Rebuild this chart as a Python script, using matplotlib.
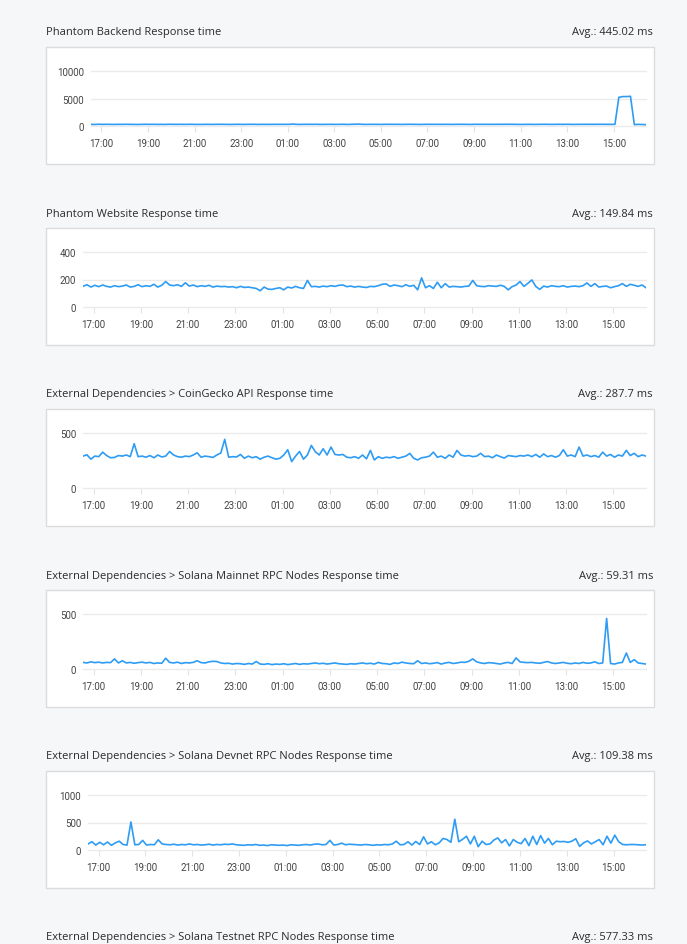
import pandas as pd
import matplotlib
matplotlib.use("Agg")
import matplotlib.pyplot as plt
import matplotlib.dates as mdates
from matplotlib.patches import Rectangle

W, H = 687, 945
inicio = "2022-05-10 16:33"

titulos = [
    "Phantom Backend Response time",
    "Phantom Website Response time",
    "External Dependencies > CoinGecko API Response time",
    "External Dependencies > Solana Mainnet RPC Nodes Response time",
    "External Dependencies > Solana Devnet RPC Nodes Response time",
    "External Dependencies > Solana Testnet RPC Nodes Response time",
]
medias = ["445.02", "149.84", "287.7", "59.31", "109.38", "577.33"]
yticks = [[0, 5000, 10000], [0, 200, 400], [0, 500], [0, 500], [0, 500, 1000]]

# valores a cada 10 minutos
backend = [
    300, 280, 320, 290, 310, 300, 285, 305, 295, 310,
    300, 290, 280, 300, 310, 295, 305, 290, 300, 285,
    310, 300, 295, 305, 290, 300, 310, 285, 300, 295,
    305, 290, 300, 310, 295, 300, 285, 300, 305, 290,
    300, 295, 310, 285, 300, 290, 305, 300, 295, 310,
    290, 300, 350, 300, 290, 305, 295, 300, 310, 290,
    300, 295, 305, 290, 300, 310, 285, 300, 295, 340,
    300, 290, 305, 295, 300, 290, 310, 300, 295, 305,
    290, 300, 310, 295, 300, 285, 305, 300, 290, 310,
    300, 295, 305, 290, 300, 310, 295, 300, 285, 305,
    300, 290, 310, 295, 300, 305, 290, 300, 310, 295,
    300, 285, 300, 305, 290, 300, 295, 310, 300, 290,
    305, 295, 300, 310, 290, 300, 295, 305, 300, 290,
    300, 310, 295, 300, 300, 300, 5200, 5350, 5350, 5400,
    250, 300, 260, 240,
]
website = [
    150, 162, 145, 158, 148, 160, 150, 145, 155, 148,
    152, 160, 145, 150, 162, 148, 155, 150, 165, 145,
    158, 185, 160, 155, 162, 150, 176, 152, 160, 148,
    155, 150, 158, 145, 152, 148, 150, 145, 148, 140,
    150, 142, 145, 140, 135, 118, 145, 130, 128, 135,
    140, 125, 145, 138, 150, 140, 135, 193, 148, 150,
    145, 152, 148, 155, 150, 158, 160, 148, 152, 145,
    150, 145, 142, 150, 148, 155, 165, 168, 150, 160,
    155, 148, 162, 150, 158, 125, 212, 140, 155, 135,
    180, 140, 170, 145, 150, 148, 145, 150, 152, 193,
    155, 150, 148, 155, 152, 150, 158, 150, 125, 148,
    160, 185, 150, 172, 197, 150, 128, 152, 145, 155,
    150, 148, 155, 145, 150, 152, 148, 155, 175, 150,
    170, 145, 150, 152, 140, 148, 155, 170, 150, 165,
    158, 150, 160, 140,
]
coingecko = [
    290, 302, 262, 290, 285, 326, 295, 275, 278, 295,
    290, 300, 285, 403, 285, 290, 280, 295, 275, 300,
    282, 290, 332, 300, 285, 280, 290, 285, 300, 320,
    280, 290, 285, 278, 300, 318, 442, 280, 285, 282,
    305, 270, 290, 275, 285, 262, 280, 290, 275, 262,
    270, 300, 348, 240, 290, 332, 262, 300, 387, 330,
    300, 357, 300, 372, 305, 300, 305, 280, 275, 285,
    270, 300, 265, 342, 255, 285, 270, 280, 275, 285,
    270, 280, 290, 315, 270, 255, 275, 280, 290, 326,
    280, 290, 270, 300, 280, 342, 300, 290, 295, 285,
    290, 315, 285, 290, 275, 300, 285, 272, 295, 290,
    285, 295, 290, 300, 285, 305, 280, 310, 285, 295,
    280, 295, 348, 290, 300, 285, 372, 290, 300, 285,
    295, 280, 326, 290, 305, 280, 300, 290, 342, 295,
    315, 285, 300, 290,
]
mainnet = [
    60, 55, 65, 58, 62, 55, 60, 58, 92, 55,
    75, 55, 60, 52, 58, 62, 55, 60, 50, 55,
    52, 98, 60, 55, 62, 50, 58, 55, 60, 75,
    58, 55, 65, 70, 68, 55, 50, 52, 45, 50,
    48, 42, 50, 45, 68, 45, 42, 48, 40, 45,
    42, 48, 40, 45, 50, 42, 48, 45, 50, 55,
    48, 52, 45, 50, 55, 48, 45, 42, 48, 45,
    50, 55, 48, 52, 45, 60, 50, 48, 42, 55,
    50, 62, 55, 50, 48, 75, 50, 55, 48, 52,
    58, 45, 55, 60, 50, 55, 62, 60, 70, 92,
    65, 55, 50, 58, 55, 50, 45, 55, 60, 50,
    101, 65, 60, 58, 60, 55, 52, 60, 68, 55,
    50, 55, 60, 52, 48, 55, 50, 60, 52, 55,
    65, 50, 55, 460, 50, 45, 55, 60, 145, 60,
    85, 55, 50, 45,
]
devnet = [
    110, 150, 90, 140, 95, 145, 85, 130, 160, 100,
    90, 510, 95, 100, 175, 90, 100, 95, 185, 110,
    100, 95, 105, 90, 100, 95, 110, 95, 100, 90,
    95, 105, 90, 100, 95, 105, 100, 110, 95, 90,
    85, 95, 90, 100, 85, 90, 80, 95, 90, 85,
    90, 80, 95, 90, 85, 95, 100, 90, 105, 110,
    95, 100, 175, 90, 100, 125, 95, 105, 100, 95,
    90, 100, 95, 85, 95, 90, 100, 95, 110, 160,
    95, 100, 150, 90, 155, 100, 240, 110, 150, 95,
    130, 210, 190, 140, 560, 150, 195, 250, 110, 250,
    60, 160, 100, 110, 180, 220, 130, 190, 75, 190,
    140, 115, 210, 80, 250, 100, 262, 125, 210, 95,
    160, 150, 155, 140, 160, 205, 65, 130, 165, 110,
    150, 190, 95, 250, 125, 270, 150, 100, 95, 100,
    100, 95, 90, 95,
]
series = [backend, website, coingecko, mainnet, devnet]


def fx(px):
    return px / W


def fy(py):
    return 1 - py / H


fig = plt.figure(figsize=(W / 100, H / 100), dpi=100, facecolor="#f6f7f9")

esquerda = [91, 83, 83, 83, 88]
for k, titulo in enumerate(titulos):
    topo = 48 + 181 * k
    fig.text(fx(46), fy(topo - 15), titulo, ha="left", va="center",
             fontsize=8.0, color="#2b2b2b", family="Open Sans")
    fig.text(fx(653), fy(topo - 15), "Avg.: " + medias[k] + " ms", ha="right",
             va="center", fontsize=8.0, color="#2b2b2b", family="Open Sans")
    if k >= len(series):
        continue

    fig.add_artist(Rectangle((fx(46), fy(topo + 117)), fx(608), 117 / H,
                             transform=fig.transFigure, facecolor="white",
                             edgecolor="#dcdcdc", lw=1, zorder=-5))

    ax = fig.add_axes([fx(esquerda[k]), fy(topo + 79), fx(646 - esquerda[k]), 55 / H])
    valores = series[k]
    tempos = pd.date_range(inicio, periods=len(valores), freq="10min")
    ax.plot(tempos, valores, color="#2e9cf4", lw=1.2, zorder=3)
    ax.set_xlim(tempos[0], tempos[-1])
    ax.set_ylim(0, yticks[k][-1])
    ax.set_yticks(yticks[k])
    ax.patch.set_alpha(0)
    for s in ax.spines.values():
        s.set_visible(False)
    ax.grid(axis="y", color="#ebebeb", lw=1)
    ax.set_axisbelow(True)
    for gl in ax.get_ygridlines():
        gl.set_clip_on(False)
    ax.xaxis.set_major_locator(mdates.HourLocator(byhour=range(1, 24, 2)))
    ax.xaxis.set_major_formatter(mdates.DateFormatter("%H:%M"))
    ax.tick_params(axis="x", length=4, color="#e3e3e3", labelsize=7,
                   labelcolor="#444444", pad=4.5)
    ax.tick_params(axis="y", length=0, labelsize=7, labelcolor="#444444", pad=5)
    for lbl in ax.get_xticklabels() + ax.get_yticklabels():
        lbl.set_family("Roboto")

fig.savefig("out.png", dpi=100, facecolor=fig.get_facecolor())
